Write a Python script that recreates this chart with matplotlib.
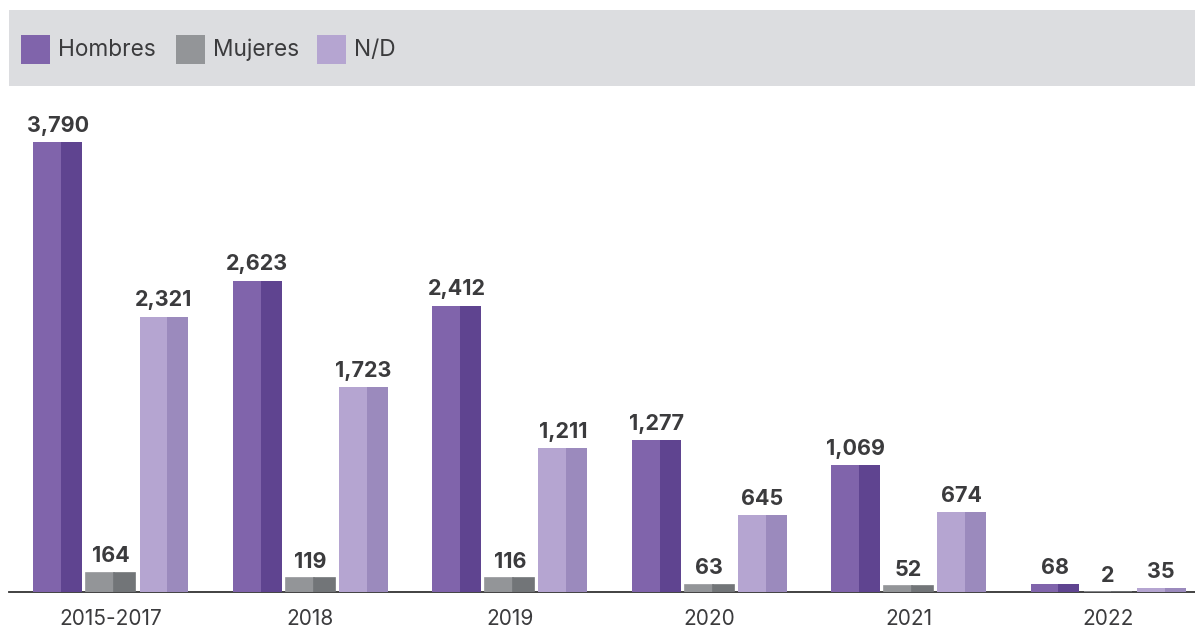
import numpy as np
import matplotlib.pyplot as plt
from matplotlib.patches import Rectangle

plt.rcParams['font.family'] = ['Inter', 'DejaVu Sans']

periodos = ['2015-2017', '2018', '2019', '2020', '2021', '2022']
hombres = [3790, 2623, 2412, 1277, 1069, 68]
mujeres = [164, 119, 116, 63, 52, 2]
nd = [2321, 1723, 1211, 645, 674, 35]

series = ['Hombres', 'Mujeres', 'N/D']
claros = ['#8064ab', '#939598', '#b5a5d1']
oscuros = ['#5f4490', '#727578', '#9b8abd']
texto = '#3b3b3d'

W, H = 1195, 628
fig = plt.figure(figsize=(W / 100, H / 100), dpi=100)

# caja gris de la leyenda
fig.patches.append(Rectangle((9 / W, 1 - 86 / H), (W - 9) / W, 76 / H,
                             transform=fig.transFigure, facecolor='#dcdde0',
                             edgecolor='none', zorder=0))
x_leg = [21, 176, 317]
for nombre, c, xl in zip(series, claros, x_leg):
    fig.patches.append(Rectangle((xl / W, 1 - 64 / H), 29 / W, 29 / H,
                                 transform=fig.transFigure, facecolor=c,
                                 edgecolor='none'))
    fig.text((xl + 37) / W, 1 - 50 / H, nombre, fontsize=16.3, color=texto,
             va='center', ha='left')

ax = fig.add_axes([9 / W, 36 / H, (W - 9) / W, (592 - 100) / H])

x = np.arange(len(periodos))
ancho = 0.245
paso = 0.266
frac = 0.57  # parte clara de cada barra
for i, (vals, c1, c2) in enumerate(zip([hombres, mujeres, nd], claros, oscuros)):
    xc = x + (i - 1) * paso
    izq = xc - ancho / 2
    lw = 1.2 if i == 1 else 0  # la barra de 2 se ve como una linea
    ax.bar(izq, vals, width=ancho * frac, align='edge', color=c1,
           edgecolor=c1, linewidth=lw, zorder=3)
    ax.bar(izq + ancho * frac, vals, width=ancho * (1 - frac), align='edge',
           color=c2, edgecolor=c2, linewidth=lw, zorder=3)
    for xx, v in zip(xc, vals):
        ax.annotate(f'{v:,}', (xx, v), xytext=(0, 4.5), textcoords='offset points',
                    ha='center', va='bottom', fontsize=15.5, fontweight='bold',
                    color=texto)

ax.set_xlim(-0.511, 5.436)
ax.set_ylim(0, 4145)
ax.set_xticks(x)
ax.set_xticklabels(periodos, fontsize=15, color=texto)
ax.tick_params(axis='x', length=0, pad=12)
ax.set_yticks([])
for lado in ['top', 'right', 'left']:
    ax.spines[lado].set_visible(False)
ax.spines['bottom'].set_color('#333333')
ax.spines['bottom'].set_linewidth(1.3)
ax.spines['bottom'].set_zorder(1)

fig.savefig('out.png', dpi=100)
